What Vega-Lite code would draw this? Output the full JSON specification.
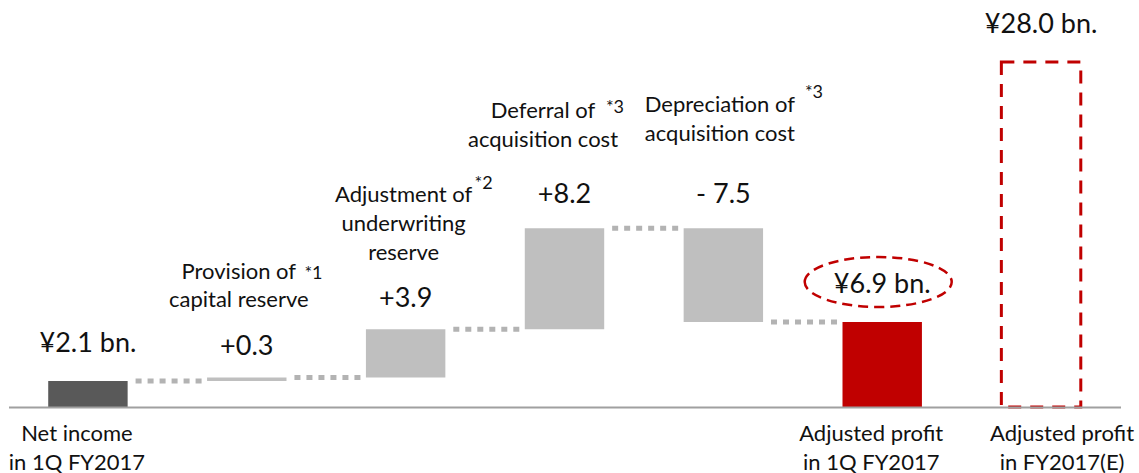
{
  "$schema": "https://vega.github.io/schema/vega-lite/v6.json",
  "autosize": {"type": "none"},
  "width": 1112,
  "height": 407,
  "padding": {"left": 8.5, "top": 0, "right": 18.5, "bottom": 66},
  "background": "white",
  "config": {"view": {"stroke": null}, "text": {"font": "Lato", "color": "#111111"}},
  "datasets": {
    "bars": [
      {"id": "c1", "cat": "Net income|in 1Q FY2017", "start": 0, "end": 2.1, "top": 2.1, "kind": "total", "label": "¥2.1 bn.", "desc": "", "note": ""},
      {"id": "c2", "cat": "Provision of capital reserve", "start": 2.1, "end": 2.4, "top": 2.4, "kind": "delta", "label": "+0.3", "desc": "Provision of\ncapital reserve", "note": "*1"},
      {"id": "c3", "cat": "Adjustment of underwriting reserve", "start": 2.4, "end": 6.3, "top": 6.3, "kind": "delta", "label": "+3.9", "desc": "Adjustment of\nunderwriting\nreserve", "note": "*2"},
      {"id": "c4", "cat": "Deferral of acquisition cost", "start": 6.3, "end": 14.5, "top": 14.5, "kind": "delta", "label": "+8.2", "desc": "Deferral of\nacquisition cost", "note": "*3"},
      {"id": "c5", "cat": "Depreciation of acquisition cost", "start": 14.5, "end": 6.9, "top": 14.5, "kind": "delta", "label": "- 7.5", "desc": "Depreciation of\nacquisition cost", "note": "*3"},
      {"id": "c6", "cat": "Adjusted profit|in 1Q FY2017", "start": 0, "end": 6.9, "top": 6.9, "kind": "result", "label": "¥6.9 bn.", "desc": "", "note": ""},
      {"id": "c7", "cat": "Adjusted profit|in FY2017(E)", "start": 0, "end": 28.0, "top": 28.0, "kind": "estimate", "label": "¥28.0 bn.", "desc": "", "note": ""}
    ],
    "links": [
      {"from": "Net income|in 1Q FY2017", "to": "Provision of capital reserve", "level": 2.1},
      {"from": "Provision of capital reserve", "to": "Adjustment of underwriting reserve", "level": 2.4},
      {"from": "Adjustment of underwriting reserve", "to": "Deferral of acquisition cost", "level": 6.3},
      {"from": "Deferral of acquisition cost", "to": "Depreciation of acquisition cost", "level": 14.5},
      {"from": "Depreciation of acquisition cost", "to": "Adjusted profit|in 1Q FY2017", "level": 6.9}
    ]
  },
  "data": {"name": "bars"},
  "encoding": {
    "x": {
      "field": "cat",
      "type": "nominal",
      "scale": {
        "domain": ["Net income|in 1Q FY2017", "Provision of capital reserve", "Adjustment of underwriting reserve", "Deferral of acquisition cost", "Depreciation of acquisition cost", "Adjusted profit|in 1Q FY2017", "Adjusted profit|in FY2017(E)"],
        "paddingInner": 0.5,
        "paddingOuter": 0.25
      },
      "axis": {
        "title": null,
        "ticks": false,
        "grid": false,
        "domainColor": "#a0a0a0",
        "domainWidth": 2,
        "labelAngle": 0,
        "labelFont": "Lato",
        "labelFontSize": 22,
        "labelColor": "#111111",
        "labelPadding": 16,
        "labelLineHeight": 29,
        "labelBaseline": "top",
        "labelOverlap": false,
        "labelLimit": 400,
        "zindex": 1,
        "labelExpr": "indexof(datum.value, '|') >= 0 ? split(datum.value, '|') : ''",
        "labelOffset": {"condition": {"test": "indexof(datum.value, 'FY2017(E)') >= 0", "value": 21}, "value": -11}
      }
    }
  },
  "layer": [
    {
      "data": {"name": "links"},
      "mark": {"type": "rule", "stroke": "#b3b3b3", "strokeWidth": 5, "strokeDash": [6, 6], "strokeCap": "butt"},
      "encoding": {
        "x": {"field": "from", "type": "nominal", "bandPosition": 1.1},
        "x2": {"field": "to", "bandPosition": -0.04},
        "y": {"field": "level", "type": "quantitative", "scale": {"domain": [0, 33.03], "nice": false, "zero": true}, "axis": null}
      }
    },
    {
      "transform": [{"filter": "datum.kind != 'estimate'"}],
      "mark": {"type": "bar"},
      "encoding": {
        "y": {"field": "start", "type": "quantitative", "scale": {"domain": [0, 33.03], "nice": false}, "axis": null},
        "y2": {"field": "end"},
        "color": {"field": "kind", "type": "nominal", "scale": {"domain": ["total", "delta", "result"], "range": ["#595959", "#bfbfbf", "#c00000"]}, "legend": null}
      }
    },
    {
      "transform": [{"filter": "datum.kind == 'estimate'"}],
      "mark": {"type": "bar", "fill": "transparent", "stroke": "#c00000", "strokeWidth": 3, "strokeDash": [13, 9]},
      "encoding": {
        "y": {"field": "start", "type": "quantitative", "axis": null},
        "y2": {"field": "end"}
      }
    },
    {
      "transform": [{"filter": "datum.id == 'c6'"}],
      "mark": {"type": "point", "shape": "M -1 0 A 1 0.34 0 1 1 1 0 A 1 0.34 0 1 1 -1 0 Z", "size": 21609, "filled": false, "opacity": 1, "stroke": "#c00000", "strokeWidth": 2.5, "strokeDash": [10, 6], "xOffset": -4, "yOffset": -40},
      "encoding": {"y": {"field": "top", "type": "quantitative", "axis": null}}
    },
    {
      "transform": [{"filter": "datum.kind != 'delta'"}],
      "mark": {"type": "text", "fontSize": 27, "baseline": "middle", "align": "center", "dy": -37},
      "encoding": {"y": {"field": "top", "type": "quantitative", "axis": null}, "text": {"field": "label"}}
    },
    {
      "transform": [{"filter": "datum.id == 'c2' || datum.id == 'c3'"}],
      "mark": {"type": "text", "fontSize": 27, "baseline": "middle", "align": "center", "dy": -30},
      "encoding": {"y": {"field": "top", "type": "quantitative", "axis": null}, "text": {"field": "label"}}
    },
    {
      "transform": [{"filter": "datum.id == 'c4' || datum.id == 'c5'"}],
      "mark": {"type": "text", "fontSize": 27, "baseline": "middle", "align": "center", "dy": -33.5},
      "encoding": {"y": {"field": "top", "type": "quantitative", "axis": null}, "text": {"field": "label"}}
    },
    {
      "transform": [{"filter": "datum.id == 'c2'"}],
      "mark": {"type": "text", "fontSize": 22, "baseline": "top", "align": "center", "lineBreak": "\n", "lineHeight": 28, "dx": -8, "dy": -115},
      "encoding": {"y": {"field": "top", "type": "quantitative", "axis": null}, "text": {"field": "desc"}}
    },
    {
      "transform": [{"filter": "datum.id == 'c3'"}],
      "mark": {"type": "text", "fontSize": 22, "baseline": "top", "align": "center", "lineBreak": "\n", "lineHeight": 29, "dx": -2, "dy": -144},
      "encoding": {"y": {"field": "top", "type": "quantitative", "axis": null}, "text": {"field": "desc"}}
    },
    {
      "transform": [{"filter": "datum.id == 'c4'"}],
      "mark": {"type": "text", "fontSize": 22, "baseline": "top", "align": "center", "lineBreak": "\n", "lineHeight": 29, "dx": -21.5, "dy": -127},
      "encoding": {"y": {"field": "top", "type": "quantitative", "axis": null}, "text": {"field": "desc"}}
    },
    {
      "transform": [{"filter": "datum.id == 'c5'"}],
      "mark": {"type": "text", "fontSize": 22, "baseline": "top", "align": "center", "lineBreak": "\n", "lineHeight": 28.5, "dx": -3.5, "dy": -133},
      "encoding": {"y": {"field": "top", "type": "quantitative", "axis": null}, "text": {"field": "desc"}}
    },
    {
      "transform": [{"filter": "datum.id == 'c2'"}],
      "mark": {"type": "text", "fontSize": 18, "baseline": "middle", "align": "center", "dx": 66.7, "dy": -103},
      "encoding": {"y": {"field": "top", "type": "quantitative", "axis": null}, "text": {"field": "note"}}
    },
    {
      "transform": [{"filter": "datum.id == 'c3'"}],
      "mark": {"type": "text", "fontSize": 18, "baseline": "middle", "align": "center", "dx": 78, "dy": -145},
      "encoding": {"y": {"field": "top", "type": "quantitative", "axis": null}, "text": {"field": "note"}}
    },
    {
      "transform": [{"filter": "datum.id == 'c4'"}],
      "mark": {"type": "text", "fontSize": 18, "baseline": "middle", "align": "center", "dx": 50.5, "dy": -120},
      "encoding": {"y": {"field": "top", "type": "quantitative", "axis": null}, "text": {"field": "note"}}
    },
    {
      "transform": [{"filter": "datum.id == 'c5'"}],
      "mark": {"type": "text", "fontSize": 18, "baseline": "middle", "align": "center", "dx": 90.6, "dy": -135},
      "encoding": {"y": {"field": "top", "type": "quantitative", "axis": null}, "text": {"field": "note"}}
    }
  ]
}
